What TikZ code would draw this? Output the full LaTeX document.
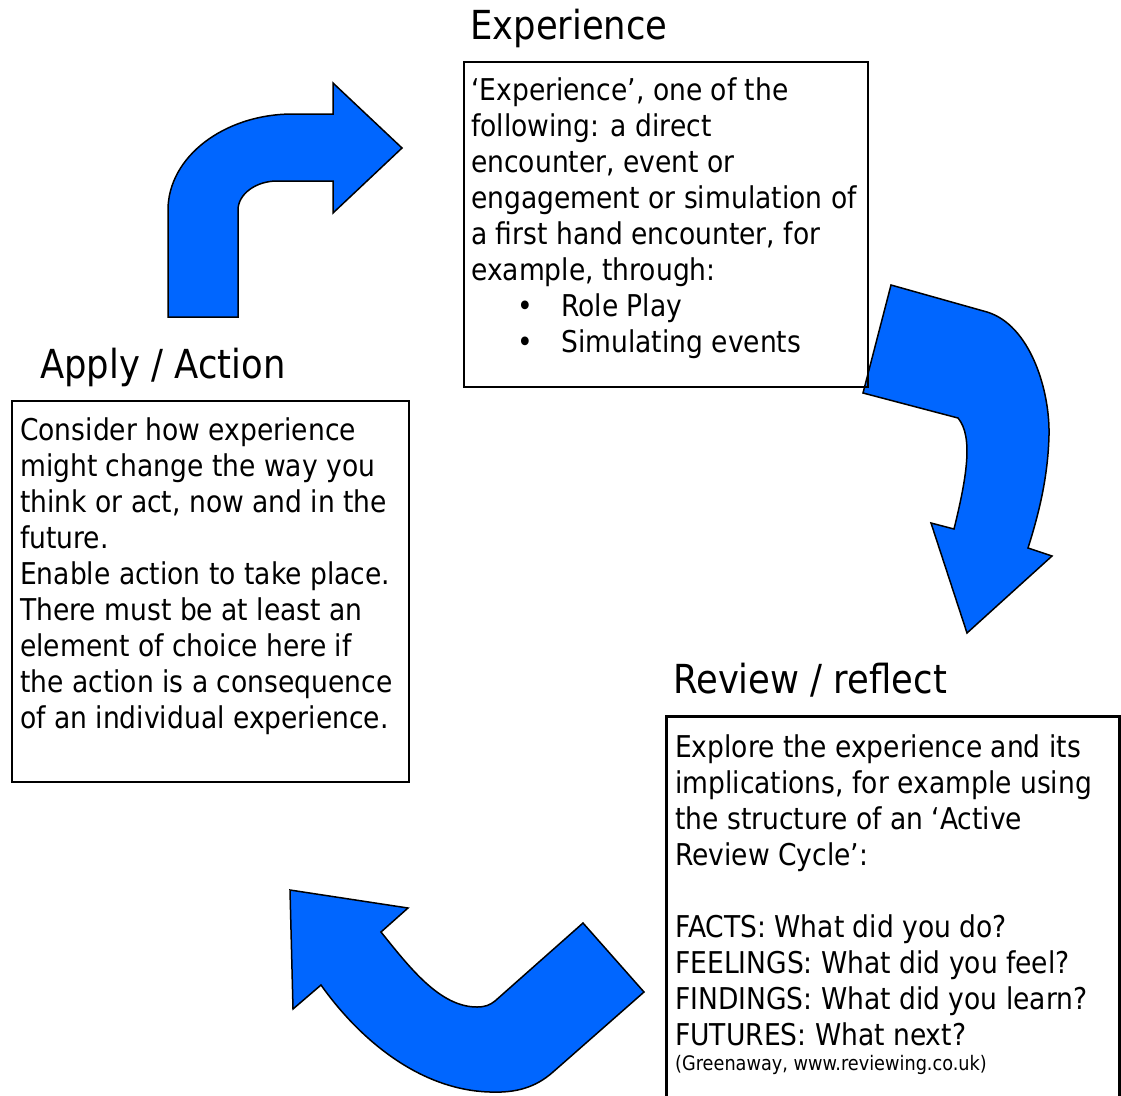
\documentclass[tikz,border=0pt]{standalone}
\usepackage{fontspec}
\setmainfont[FakeStretch=0.885]{DejaVu Sans}
\definecolor{cycleblue}{RGB}{0,102,255}
\newcommand{\bodyfont}{\fontsize{30}{36}\selectfont}
\newcommand{\headfont}{\fontsize{40}{46}\selectfont}
\newcommand{\notefont}{\fontsize{20}{25}\selectfont}
\newcommand{\bulletitem}[1]{\hspace*{46pt}\makebox[44pt][l]{\textbullet}#1}
\begin{document}
\begin{tikzpicture}[x=1pt,y=-1pt,
  textbox/.style={draw=black, line width=1.5pt, inner sep=0pt, anchor=north west},
  boxtext/.style={anchor=base west, inner sep=0pt, align=left, font=\bodyfont},
  heading/.style={anchor=base west, inner sep=0pt, font=\headfont},
  bentarrow/.style={fill=cycleblue, draw=black, line width=1.5pt, line join=miter}]
\useasboundingbox[fill=white] (0,0) rectangle (1121,1095);

% arrow from Apply towards Experience
\draw[bentarrow] (168,317) -- (168,210)
  .. controls (168,157) and (224,114) .. (293,114)
  -- (333,114) -- (333,83) -- (402,148) -- (333,213) -- (333,181)
  -- (277,181) .. controls (256,181) and (238,194) .. (238,210)
  -- (238,317) -- cycle;

% arrow from Experience towards Review
\draw[bentarrow] (891,285) -- (987,312)
  .. controls (1030,325) and (1050,390) .. (1049,435)
  .. controls (1048,475) and (1040,510) .. (1028,548)
  -- (1052,556) -- (967,633) -- (931,523) -- (954,529)
  .. controls (966,480) and (974,437) .. (958,418)
  -- (863,393) -- cycle;

% arrow from Review towards Apply
\draw[bentarrow] (290,890) -- (408,908) -- (381,932)
  .. controls (410,968) and (440,1007) .. (477,1007)
  .. controls (485,1007) and (490,1005) .. (495,1001)
  -- (583,923) -- (644,992) -- (553,1072)
  .. controls (535,1088) and (515,1093) .. (490,1092)
  .. controls (420,1090) and (360,1040) .. (321,985)
  -- (293,1009) -- cycle;

% boxes
\node[textbox, minimum width=404pt, minimum height=325pt] (expbox) at (463,61) {};
\node[textbox, minimum width=397pt, minimum height=381pt] (appbox) at (11,400) {};
\node[textbox, line width=3pt, minimum width=453pt, minimum height=400pt] (revbox) at (665,715) {};

% headings
\node[heading] (exphead) at (470,39) {Experience};
\node[heading] (apphead) at (40,378) {Apply / Action};
\node[heading] (revhead) at (673,693) {Review / reflect};

% box contents (anchored at the baseline of the last line)
\node[boxtext] (exptext) at (471,352) {‘Experience’, one of the\\
following: a direct\\
encounter, event or\\
engagement or simulation of\\
a first hand encounter, for\\
example, through:\\
\bulletitem{Role Play}\\
\bulletitem{Simulating events}};

\node[boxtext] (apptext) at (20,728) {Consider how experience\\
might change the way you\\
think or act, now and in the\\
future.\\
Enable action to take place.\\
There must be at least an\\
element of choice here if\\
the action is a consequence\\
of an individual experience.};

\node[boxtext] (revtext) at (675,1070) {Explore the experience and its\\
implications, for example using\\
the structure of an ‘Active\\
Review Cycle’:\\
\strut\\
FACTS: What did you do?\\
FEELINGS: What did you feel?\\
FINDINGS: What did you learn?\\
FUTURES: What next?\\[-11pt]
{\notefont (Greenaway, www.reviewing.co.uk)}};
\end{tikzpicture}
\end{document}
